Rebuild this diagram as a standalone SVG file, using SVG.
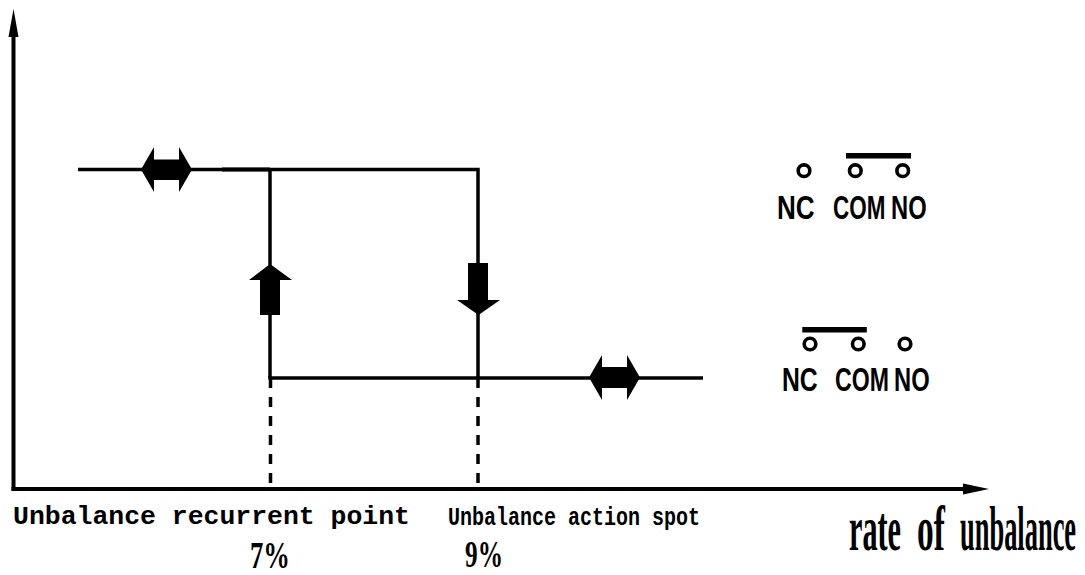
<svg xmlns="http://www.w3.org/2000/svg" width="1085" height="575" viewBox="0 0 1085 575">
<style>
.ln{stroke:#000;stroke-width:3.5;fill:none}
.ax{stroke:#000;stroke-width:4;fill:none}
.dash{stroke:#000;stroke-width:3.5;fill:none;stroke-dasharray:10 9}
.blk{fill:#000;stroke:none}
.ring{fill:none;stroke:#000;stroke-width:3.6}
.mono{font-family:"Liberation Mono","DejaVu Sans Mono",monospace;font-weight:bold;font-size:25px;fill:#000}
.pin{font-family:"Liberation Sans",Arial,sans-serif;font-weight:bold;font-size:33px;fill:#000}
.ser{font-family:"Liberation Serif","Times New Roman",serif;font-weight:bold;fill:#000}
</style>
<rect width="1085" height="575" fill="#fff"/>
<g id="axes">
  <line class="ax" x1="13.5" y1="30" x2="13.5" y2="491"/>
  <polygon class="blk" points="13.5,9 8.5,37 18.5,37"/>
  <line class="ax" x1="11.5" y1="489" x2="966" y2="489"/>
  <polygon class="blk" points="989,489 963,483.5 963,494.5"/>
</g>
<g id="connectors">
  <polyline class="ln" points="78,169.5 478,169.5 478,378"/>
  <line x1="222" y1="169.5" x2="270" y2="169.5" stroke="#000" stroke-width="4"/>
  <line class="ln" x1="270" y1="169.5" x2="270" y2="378"/>
  <line class="ln" x1="268.3" y1="378" x2="703" y2="378"/>
  <line class="dash" x1="270.5" y1="378" x2="270.5" y2="488"/>
  <line class="dash" x1="478" y1="378" x2="478" y2="488"/>
</g>
<g id="arrow-both-top">
  <polygon class="blk" points="141,169.5 154,147 154,159.5 179,159.5 179,147 192,169.5 179,192 179,180 154,180 154,192"/>
</g>
<g id="arrow-both-bottom">
  <polygon class="blk" points="589,377.5 602,355 602,367 627,367 627,355 640,377.5 627,400 627,388 602,388 602,400"/>
</g>
<g id="arrow-up">
  <polygon class="blk" points="270,264 292,280 280,280 280,315 260,315 260,280 249,280"/>
</g>
<g id="arrow-down">
  <polygon class="blk" points="468,263 488,263 488,300 500,300 478.5,315 457,300 468,300"/>
</g>
<g id="contact-top">
  <rect class="blk" x="846" y="153" width="65" height="5.5"/>
  <circle class="ring" cx="804" cy="170.7" r="5.8"/>
  <circle class="ring" cx="855.3" cy="170.7" r="5.8"/>
  <circle class="ring" cx="902.7" cy="170.7" r="5.8"/>
  <text class="pin" transform="translate(777,219) scale(0.79,1)">NC</text>
  <text class="pin" transform="translate(833,219) scale(0.68,1)">COM</text>
  <text class="pin" transform="translate(891,219) scale(0.72,1)">NO</text>
</g>
<g id="contact-bottom">
  <rect class="blk" x="802.3" y="327" width="64.5" height="5.5"/>
  <circle class="ring" cx="810" cy="344" r="5.8"/>
  <circle class="ring" cx="858.3" cy="344" r="5.8"/>
  <circle class="ring" cx="905" cy="344" r="5.8"/>
  <text class="pin" transform="translate(782,391) scale(0.75,1)">NC</text>
  <text class="pin" transform="translate(835,391) scale(0.7,1)">COM</text>
  <text class="pin" transform="translate(894,391) scale(0.72,1)">NO</text>
</g>
<g id="labels">
  <text class="mono" transform="translate(13,524) scale(1.059,1)">Unbalance recurrent point</text>
  <text class="mono" transform="translate(448,525) scale(0.8,1)">Unbalance action spot</text>
  <text class="ser" font-size="37" transform="translate(250,568) scale(0.72,1)">7%</text>
  <text class="ser" font-size="37" transform="translate(465,567) scale(0.685,1)">9%</text>
  <text class="ser" font-size="63" transform="translate(849,550) scale(0.48,1)">rate</text>
  <text class="ser" font-size="63" transform="translate(917,550) scale(0.53,1)">of</text>
  <text class="ser" font-size="63" transform="translate(960,550) scale(0.42,1)">unbalance</text>
</g>
</svg>
